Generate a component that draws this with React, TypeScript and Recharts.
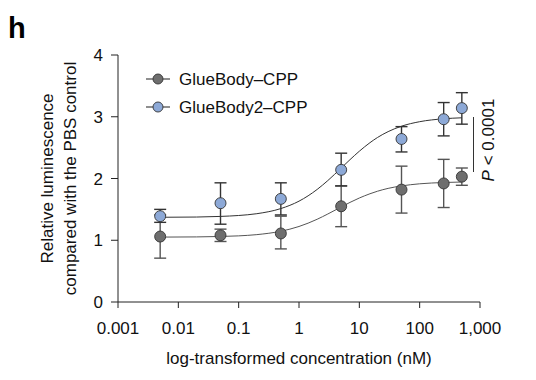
import React from 'react';
import { ComposedChart, XAxis, YAxis, Line, Scatter, ErrorBar, Label } from 'recharts';

// Measured concentrations (nM)
const concentrations = [0.005, 0.05, 0.5, 5, 50, 250, 500];
// GlueBody–CPP
const glueBodyMean = [1.06, 1.08, 1.11, 1.55, 1.82, 1.92, 2.03];
const glueBodyErrLow = [0.35, 0.1, 0.25, 0.33, 0.38, 0.39, 0.14];
const glueBodyErrHigh = [0.35, 0.1, 0.28, 0.33, 0.38, 0.39, 0.14];
// GlueBody2–CPP
const glueBody2Mean = [1.39, 1.6, 1.67, 2.14, 2.64, 2.96, 3.14];
const glueBody2ErrLow = [0.1, 0.34, 0.26, 0.26, 0.21, 0.27, 0.26];
const glueBody2ErrHigh = [0.11, 0.33, 0.26, 0.27, 0.2, 0.27, 0.25];
// Fitted curves
const fitConcentrations = [0.005, 0.02, 0.05, 0.1, 0.2, 0.5, 1, 2, 3, 5, 7, 10, 15, 20, 30, 50, 100, 250, 500];
const glueBodyFit = [1.051, 1.054, 1.061, 1.071, 1.091, 1.146, 1.223, 1.34, 1.425, 1.539, 1.613, 1.684, 1.753, 1.794, 1.84, 1.88, 1.914, 1.935, 1.943];
const glueBody2Fit = [1.372, 1.376, 1.386, 1.401, 1.43, 1.513, 1.633, 1.823, 1.966, 2.169, 2.305, 2.442, 2.58, 2.664, 2.759, 2.847, 2.92, 2.967, 2.983];
// Axis ticks
const xTicks = [0.001, 0.01, 0.1, 1, 10, 100, 1000];
const xTickLabels = ['0.001', '0.01', '0.1', '1', '10', '100', '1,000'];
const yTicks = [0, 1, 2, 3, 4];
const seriesNames = ['GlueBody\u2013CPP', 'GlueBody2\u2013CPP'];
const pLabel = '< 0.0001';

const FONT = '"Liberation Sans", Arial, Helvetica, sans-serif';
const GRAY = '#6e6e6e';
const BLUE = '#8da9d7';
const EDGE = '#333333';

const grayPoints = concentrations.map((x, i) => ({ x, y: glueBodyMean[i], err: [glueBodyErrLow[i], glueBodyErrHigh[i]] }));
const bluePoints = concentrations.map((x, i) => ({ x, y: glueBody2Mean[i], err: [glueBody2ErrLow[i], glueBody2ErrHigh[i]] }));
const grayFit = fitConcentrations.map((x, i) => ({ x, y: glueBodyFit[i] }));
const blueFit = fitConcentrations.map((x, i) => ({ x, y: glueBody2Fit[i] }));

const makeDot = (fill: string) => (props: any) => (
  <circle cx={props.cx} cy={props.cy} r={5.5} fill={fill} stroke={EDGE} strokeWidth={0.9} />
);

const YLabel = (props: any) => {
  const vb = props.viewBox || {};
  const cy = vb.y + vb.height / 2;
  return (
    <g fontFamily={FONT} fontSize={17} fill="#111">
      <text x={47} y={cy} textAnchor="middle" dominantBaseline="central" transform={`rotate(-90, 47, ${cy})`}>
        Relative luminescence
      </text>
      <text x={70} y={cy} textAnchor="middle" dominantBaseline="central" transform={`rotate(-90, 70, ${cy})`}>
        compared with the PBS control
      </text>
    </g>
  );
};

export default function App() {
  return (
    <div style={{ position: 'absolute', left: 0, top: 0, width: 536, height: 380, background: '#fff', fontFamily: FONT }}>
      <ComposedChart width={536} height={380} margin={{ top: 55, right: 56, bottom: 0, left: 0 }}>
        <XAxis
          dataKey="x"
          type="number"
          scale="log"
          domain={[0.001, 1000]}
          allowDataOverflow
          ticks={xTicks}
          interval={0}
          tickFormatter={(v: number) => xTickLabels[xTicks.indexOf(v)] ?? String(v)}
          height={78}
          tickSize={6}
          tickMargin={14}
          stroke="#222"
          tick={{ fill: '#111', fontSize: 17, fontFamily: FONT }}
        >
          <Label value="log-transformed concentration (nM)" position="insideBottom" offset={16} style={{ fill: '#111', fontSize: 17, fontFamily: FONT }} />
        </XAxis>
        <YAxis
          type="number"
          domain={[0, 4]}
          ticks={yTicks}
          interval={0}
          width={118}
          tickSize={7}
          tickMargin={8}
          stroke="#222"
          tick={{ fill: '#111', fontSize: 17, fontFamily: FONT }}
          label={<YLabel />}
        />
        <Line data={grayFit} dataKey="y" type="monotone" stroke="#555" strokeWidth={1} dot={false} activeDot={false} isAnimationActive={false} />
        <Line data={blueFit} dataKey="y" type="monotone" stroke="#333" strokeWidth={1} dot={false} activeDot={false} isAnimationActive={false} />
        <Scatter data={grayPoints} dataKey="y" shape={makeDot(GRAY)} isAnimationActive={false}>
          <ErrorBar dataKey="err" direction="y" width={6} stroke="#555" strokeWidth={1.4} />
        </Scatter>
        <Scatter data={bluePoints} dataKey="y" shape={makeDot(BLUE)} isAnimationActive={false}>
          <ErrorBar dataKey="err" direction="y" width={6} stroke="#333" strokeWidth={1.4} />
        </Scatter>
      </ComposedChart>
      <svg width={536} height={380} style={{ position: 'absolute', left: 0, top: 0, pointerEvents: 'none' }}>
        <text x={8} y={38} fontFamily={FONT} fontWeight="bold" fontSize={29} fill="#000">h</text>
        {seriesNames.map((name, i) => {
          const y = 79 + i * 28;
          const fill = i === 0 ? GRAY : BLUE;
          return (
            <g key={name}>
              <line x1={146} x2={170} y1={y} y2={y} stroke="#444" strokeWidth={1.2} />
              <circle cx={158} cy={y} r={5} fill={fill} stroke={EDGE} strokeWidth={0.9} />
              <text x={179} y={y} dominantBaseline="central" fontFamily={FONT} fontSize={17} fill="#111">{name}</text>
            </g>
          );
        })}
        <line x1={473.5} x2={473.5} y1={117} y2={172} stroke="#333" strokeWidth={1} />
        <text x={488} y={140} textAnchor="middle" dominantBaseline="central" transform="rotate(-90, 488, 140)" fontFamily={FONT} fontSize={17} fill="#111">
          <tspan fontStyle="italic">P</tspan> {pLabel}
        </text>
      </svg>
    </div>
  );
}
